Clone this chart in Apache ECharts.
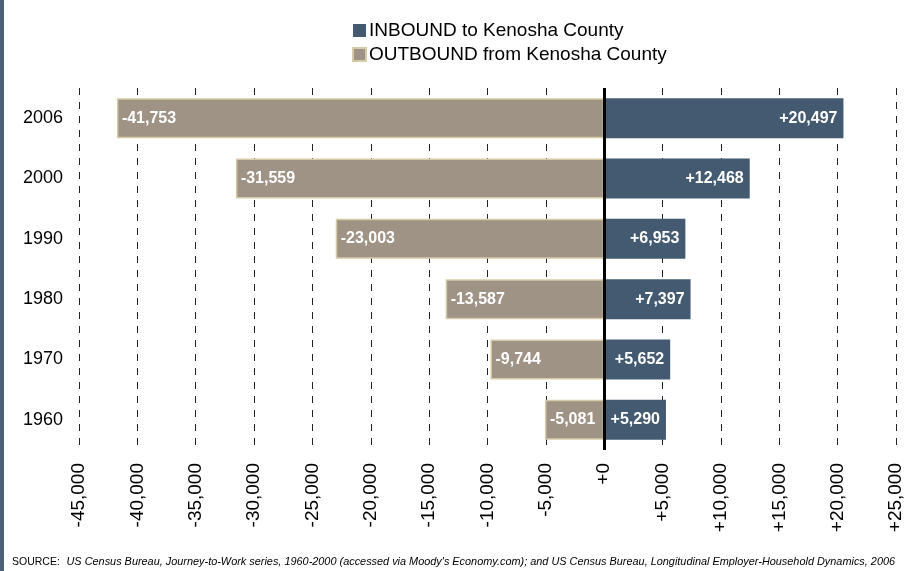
<!DOCTYPE html>
<html>
<head>
<meta charset="utf-8">
<script src="https://cdn.jsdelivr.net/npm/echarts@6/dist/echarts.min.js"></script>
<style>
    html, body { margin: 0; padding: 0; background: #fff; }
    #main { width: 907px; height: 571px; }
</style>
</head>
<body>
<div id="main"></div>
<script>
    // 数据
    var years = ['1960', '1970', '1980', '1990', '2000', '2006'];
    var inbound = [5290, 5652, 7397, 6953, 12468, 20497];
    var outbound = [-5081, -9744, -13587, -23003, -31559, -41753];
    var seriesNames = ['INBOUND to Kenosha County', 'OUTBOUND from Kenosha County'];
    var axisMin = -45000, axisMax = 25000, axisStep = 5000;
    var sourceLabel = 'SOURCE:';
    var sourceText = "US Census Bureau, Journey-to-Work series, 1960-2000 (accessed via Moody's Economy.com); and US Census Bureau, Longitudinal Employer-Household Dynamics, 2006";

    function fmt(v) {
        var s = String(Math.abs(v)).replace(/\B(?=(\d{3})+(?!\d))/g, ',');
        return (v < 0 ? '-' : '+') + s;
    }

    var myChart = echarts.init(document.getElementById('main'));
    var option = {
        animation: false,
        textStyle: { fontFamily: 'Liberation Sans, Arial, sans-serif' },
        legend: {
            orient: 'vertical',
            left: 347,
            top: 16,
            itemWidth: 13,
            itemHeight: 13,
            itemGap: 5,
            icon: 'rect',
            data: seriesNames,
            textStyle: { fontSize: 19, lineHeight: 19, color: '#000', padding: [0, 0, 0, -2] }
        },
        grid: { left: 79, right: 11, top: 88, bottom: 121, containLabel: false },
        xAxis: {
            type: 'value',
            min: axisMin,
            max: axisMax,
            interval: axisStep,
            axisLine: { show: false },
            axisTick: { show: false },
            axisLabel: {
                rotate: 90,
                margin: 13,
                fontSize: 19,
                color: '#000',
                formatter: function (v) { return v === 0 ? '+0' : fmt(v); }
            },
            splitLine: { show: true, lineStyle: { color: '#222', width: 1, type: [7, 7] } }
        },
        yAxis: {
            type: 'category',
            data: years,
            axisLine: { show: false, onZero: false },
            axisTick: { show: false },
            axisLabel: { fontSize: 18, color: '#000', margin: 16 }
        },
        series: [
            {
                name: seriesNames[0],
                type: 'bar',
                barWidth: 40,
                barGap: '-100%',
                data: inbound,
                itemStyle: { color: '#435a71' },
                label: {
                    show: true,
                    position: 'insideRight',
                    distance: 6,
                    color: '#fff',
                    fontWeight: 'bold',
                    fontSize: 16,
                    formatter: function (p) { return fmt(p.value); }
                },
                markLine: {
                    silent: true,
                    symbol: 'none',
                    label: { show: false },
                    lineStyle: { color: '#000', width: 3, type: 'solid' },
                    data: [{ xAxis: 0 }]
                }
            },
            {
                name: seriesNames[1],
                type: 'bar',
                barWidth: 40,
                barGap: '-100%',
                data: outbound,
                itemStyle: { color: '#9f9386', borderColor: '#d6caa8', borderWidth: 1.5 },
                label: {
                    show: true,
                    position: 'insideLeft',
                    distance: 5,
                    color: '#fff',
                    fontWeight: 'bold',
                    fontSize: 16,
                    formatter: function (p) { return fmt(p.value); }
                }
            }
        ],
        graphic: [
            {
                type: 'rect',
                left: 0,
                top: 0,
                shape: { width: 4, height: 571 },
                style: { fill: '#4b6079' }
            },
            {
                type: 'text',
                left: 12,
                top: 556,
                style: {
                    text: '{a|' + sourceLabel + '}  {b|' + sourceText + '}',
                    rich: {
                        a: { fontSize: 10.5, fill: '#000', fontFamily: 'Liberation Sans, Arial' },
                        b: { fontSize: 10.9, fill: '#000', fontStyle: 'italic', fontFamily: 'Liberation Sans, Arial' }
                    }
                }
            }
        ]
    };
    myChart.setOption(option);
</script>
</body>
</html>
